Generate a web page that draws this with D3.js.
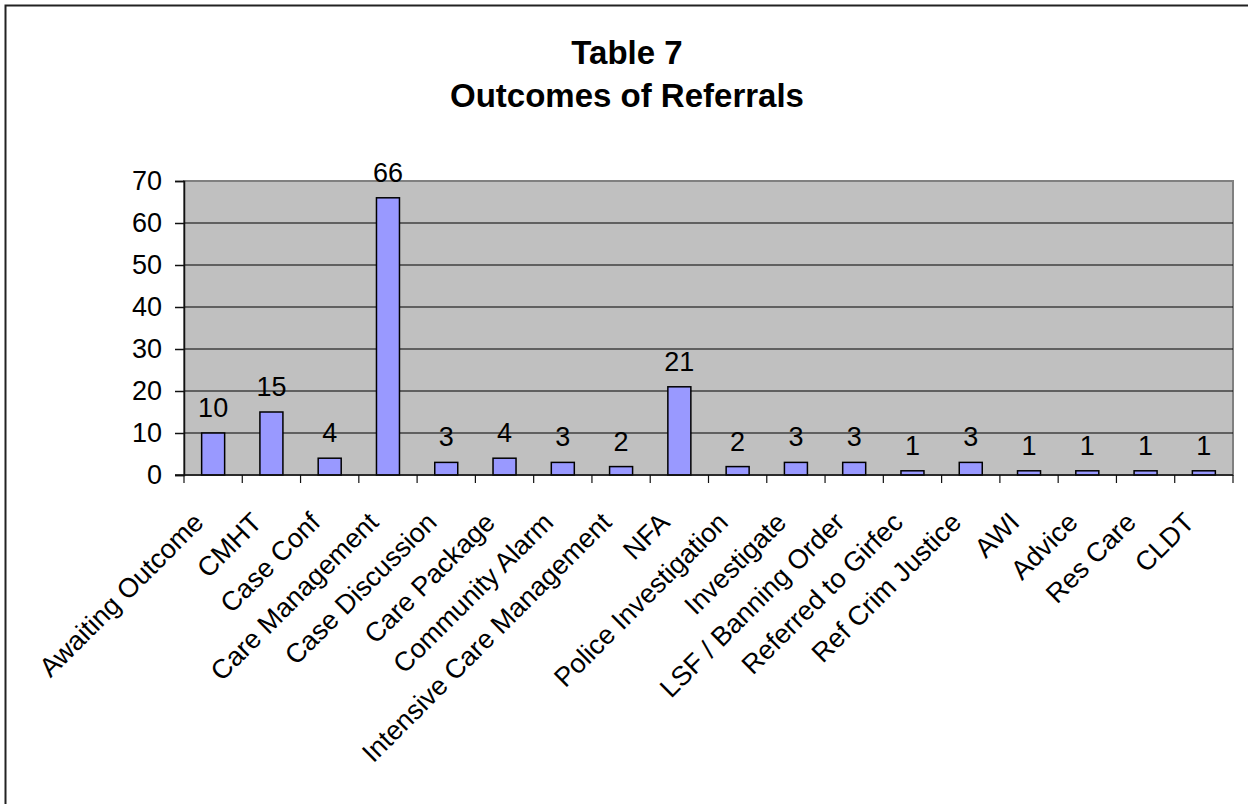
<!DOCTYPE html>
<html>
<head>
<meta charset="utf-8">
<script src="https://cdn.jsdelivr.net/npm/d3@7"></script>
<style>
  body { margin: 0; background: #fff; }
  svg text { font-family: "Liberation Sans", Arial, sans-serif; fill: #000; }
</style>
</head>
<body>
<div id="chart"></div>
<script>
// ---- DATA -----------------------
var categories = ["Awaiting Outcome", "CMHT", "Case Conf", "Care Management", "Case Discussion",
    "Care Package", "Community Alarm", "Intensive Care Management", "NFA", "Police Investigation",
    "Investigate", "LSF / Banning Order", "Referred to Girfec", "Ref Crim Justice", "AWI",
    "Advice", "Res Care", "CLDT"];
var values = [10, 15, 4, 66, 3, 4, 3, 2, 21, 2, 3, 3, 1, 3, 1, 1, 1, 1];
var yTicks = [0, 10, 20, 30, 40, 50, 60, 70];
var titleLines = ["Table 7", "Outcomes of Referrals"];

// ---- LAYOUT -----------------------
var W = 1248, H = 804;
var plotLeft = 184, plotRight = 1233, plotTop = 181, plotBottom = 475;

var svg = d3.select("#chart").append("svg")
    .attr("width", W)
    .attr("height", H);

// outer chart border (runs off the right and bottom edges)
svg.append("rect")
    .attr("x", 5.5).attr("y", 5.5)
    .attr("width", W + 20).attr("height", H + 20)
    .style("fill", "#fff")
    .style("stroke", "#222")
    .style("stroke-width", 2);

var x = d3.scaleBand()
    .domain(categories)
    .range([plotLeft, plotRight]);

var y = d3.scaleLinear()
    .domain([0, 70])
    .range([plotBottom, plotTop]);

// plot area
svg.append("rect")
    .attr("x", plotLeft).attr("y", plotTop)
    .attr("width", plotRight - plotLeft).attr("height", plotBottom - plotTop)
    .style("fill", "#c0c0c0")
    .style("stroke", "#808080")
    .style("stroke-width", 2);

// gridlines
svg.append("g")
    .selectAll("line")
    .data(yTicks.filter(d => d > 0 && d < 70))
    .enter().append("line")
    .attr("x1", plotLeft).attr("x2", plotRight)
    .attr("y1", d => y(d)).attr("y2", d => y(d))
    .style("stroke", "#000")
    .style("stroke-width", 1.2);

// bars
var barW = 23;
svg.append("g")
    .selectAll("rect")
    .data(values)
    .enter().append("rect")
    .attr("x", (d, i) => x(categories[i]) + x.bandwidth() / 2 - barW / 2)
    .attr("y", d => y(d))
    .attr("width", barW)
    .attr("height", d => plotBottom - y(d))
    .style("fill", "#9999ff")
    .style("stroke", "#000")
    .style("stroke-width", 1.5);

// value labels
svg.append("g")
    .selectAll("text")
    .data(values)
    .enter().append("text")
    .attr("x", (d, i) => x(categories[i]) + x.bandwidth() / 2)
    .attr("y", d => y(d) - 16)
    .attr("text-anchor", "middle")
    .style("font-size", "27px")
    .text(d => d);

// y axis
var yAxis = d3.axisLeft(y)
    .tickValues(yTicks)
    .tickSize(9)
    .tickPadding(13);
var gy = svg.append("g")
    .attr("transform", "translate(" + plotLeft + ",0)")
    .call(yAxis);
gy.attr("font-family", null).attr("font-size", null);
gy.selectAll("text").style("font-size", "27px");
gy.selectAll("line, path").style("stroke", "#111").style("stroke-width", 1.5);

// x axis: ticks between categories
var edges = categories.map(c => x(c)).concat([plotRight]);
svg.append("line")
    .attr("x1", plotLeft - 9).attr("x2", plotRight)
    .attr("y1", plotBottom).attr("y2", plotBottom)
    .style("stroke", "#111")
    .style("stroke-width", 1.5);
svg.append("g")
    .selectAll("line")
    .data(edges)
    .enter().append("line")
    .attr("x1", d => d).attr("x2", d => d)
    .attr("y1", plotBottom).attr("y2", plotBottom + 8)
    .style("stroke", "#111")
    .style("stroke-width", 1.2);

svg.append("g")
    .selectAll("text")
    .data(categories)
    .enter().append("text")
    .attr("transform", d => "translate(" + (x(d) + x.bandwidth() / 2 - 8) + "," + 524 + ") rotate(-45)")
    .attr("text-anchor", "end")
    .style("font-size", "27px")
    .text(d => d);

// title
svg.append("g")
    .selectAll("text")
    .data(titleLines)
    .enter().append("text")
    .attr("x", 627)
    .attr("y", (d, i) => 64 + i * 43)
    .attr("text-anchor", "middle")
    .style("font-size", "33px")
    .style("font-weight", "bold")
    .text(d => d);
</script>
</body>
</html>
